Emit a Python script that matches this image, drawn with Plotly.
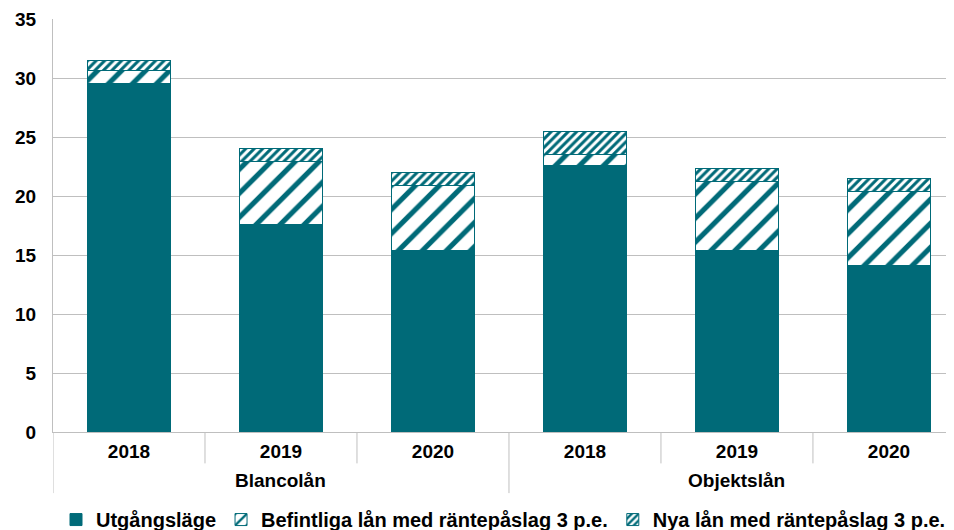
import plotly.graph_objects as go

groups = ["Blancolån", "Blancolån", "Blancolån", "Objektslån", "Objektslån", "Objektslån"]
years = ["2018", "2019", "2020", "2018", "2019", "2020"]
utgangslage = [29.5, 17.6, 15.4, 22.6, 15.4, 14.1]
befintliga = [1.1, 5.3, 5.5, 0.95, 5.85, 6.3]
nya = [0.9, 1.1, 1.1, 1.95, 1.05, 1.05]
yticks = [0, 5, 10, 15, 20, 25, 30, 35]

TEAL = "#006A78"
GRID = "#BFBFBF"
FONT = "Liberation Sans, Arial, sans-serif"

xpos = list(range(len(years)))

fig = go.Figure()
fig.add_trace(go.Bar(
    x=xpos, y=utgangslage, name="Utgångsläge",
    marker=dict(color=TEAL, line=dict(color=TEAL, width=1)),
    width=0.55,
))
fig.add_trace(go.Bar(
    x=xpos, y=befintliga, name="Befintliga lån med räntepåslag 3 p.e.",
    marker=dict(color="white", line=dict(color=TEAL, width=1),
                pattern=dict(shape="/", fgcolor=TEAL, bgcolor="white", fgopacity=1,
                             size=17, solidity=0.3, fillmode="replace")),
    width=0.55,
))
fig.add_trace(go.Bar(
    x=xpos, y=nya, name="Nya lån med räntepåslag 3 p.e.",
    marker=dict(color="white", line=dict(color=TEAL, width=1),
                pattern=dict(shape="/", fgcolor=TEAL, bgcolor="white", fgopacity=1,
                             size=6, solidity=0.5, fillmode="replace")),
    width=0.55,
))

# dividers under the x axis
shapes = []
inner_bounds = [0.5, 1.5, 3.5, 4.5]
outer_bounds = [-0.5, 2.5]
for b in inner_bounds:
    shapes.append(dict(type="line", xref="x", yref="paper", x0=b, x1=b,
                       y0=0, y1=-0.076, line=dict(color=GRID, width=1)))
for b in outer_bounds:
    shapes.append(dict(type="line", xref="x", yref="paper", x0=b, x1=b,
                       y0=0, y1=-0.148, line=dict(color=GRID, width=1)))

annotations = []
group_names = []
for i, g in enumerate(groups):
    if g not in group_names:
        group_names.append(g)
for g in group_names:
    idx = [i for i, gg in enumerate(groups) if gg == g]
    center = sum(idx) / len(idx)
    annotations.append(dict(text=g, x=center, xref="x", y=-0.118, yref="paper",
                            showarrow=False, yanchor="middle", xanchor="center",
                            font=dict(family=FONT, size=19, color="black", weight="bold")))

# page body has an 8px margin, so the figure is sized to fill the rest of the window
fig.update_layout(
    barmode="stack",
    width=946, height=522,
    margin=dict(l=45, r=0, t=11, b=98, autoexpand=False),
    paper_bgcolor="white", plot_bgcolor="white",
    font=dict(family=FONT, color="black"),
    shapes=shapes,
    annotations=annotations,
    showlegend=True,
    legend=dict(orientation="h", x=0.5, xanchor="center", y=-0.212, yanchor="middle",
                font=dict(family=FONT, size=20, color="black", weight="bold"),
                traceorder="normal", itemwidth=30, tracegroupgap=0),
)
fig.update_xaxes(
    range=[-0.5, 5.428],
    tickvals=xpos, ticktext=years,
    tickfont=dict(family=FONT, size=19, color="black", weight="bold"),
    showgrid=False, zeroline=False,
    showline=True, linecolor=GRID, linewidth=1,
    ticks="", ticklabelstandoff=2, automargin=False,
)
fig.update_yaxes(
    range=[0, 35], tickvals=yticks,
    tickfont=dict(family=FONT, size=19, color="black", weight="bold"),
    showgrid=True, gridcolor=GRID, gridwidth=1,
    zeroline=False, showline=True, linecolor=GRID, linewidth=1,
    ticks="", ticklabelstandoff=12, automargin=False,
)

fig.write_html("out.html")
